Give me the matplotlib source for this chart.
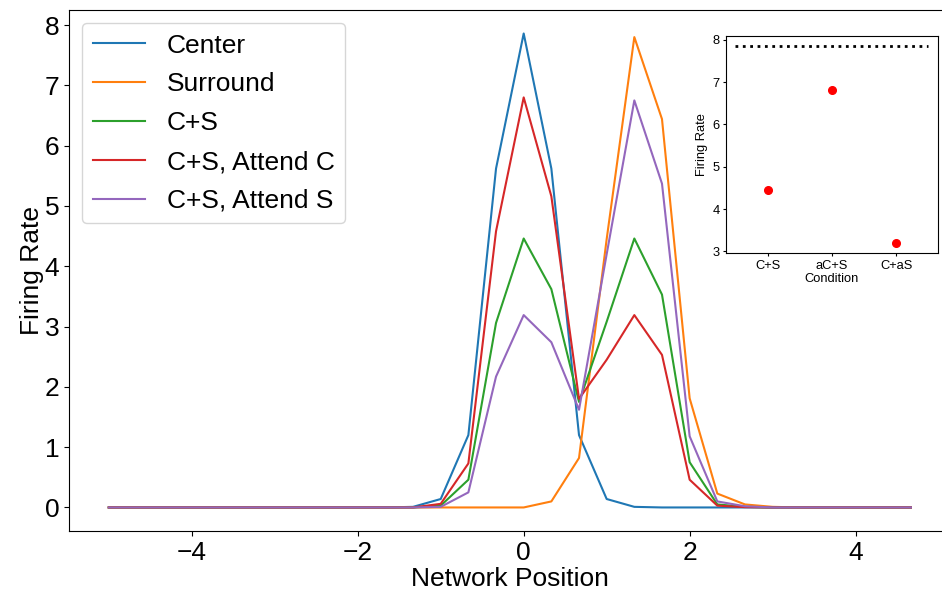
import numpy as np
import matplotlib.pyplot as plt

plt.rcParams['font.family'] = ['Liberation Sans', 'DejaVu Sans']

# network positions: -5 .. 4.67 in steps of 1/3
positions = np.arange(30) / 3.0 - 5.0

center = [0] * 11 + [0.01, 0.14, 1.2, 5.62, 7.86, 5.62, 1.2, 0.14, 0.01] + [0] * 10
surround = [0] * 15 + [0.0, 0.1, 0.82, 4.45, 7.8, 6.44, 1.81, 0.23, 0.05, 0.01] + [0] * 5
c_plus_s = [0] * 12 + [0.03, 0.46, 3.06, 4.46, 3.62, 1.75, 3.08, 4.46, 3.53, 0.75, 0.05, 0.01] + [0] * 6
attend_c = [0] * 12 + [0.06, 0.73, 4.58, 6.8, 5.16, 1.8, 2.45, 3.19, 2.53, 0.46, 0.03, 0.005] + [0] * 6
attend_s = [0] * 12 + [0.01, 0.25, 2.17, 3.19, 2.74, 1.62, 4.2, 6.75, 5.37, 1.18, 0.1, 0.02] + [0] * 6

series_labels = ["Center", "Surround", "C+S", "C+S, Attend C", "C+S, Attend S"]

# inset: peak firing per condition
conditions = ["C+S", "aC+S", "C+aS"]
cond_rates = [4.45, 6.8, 3.19]
center_peak = 7.86

fig = plt.figure(figsize=(9.42, 5.93), dpi=100)
ax = fig.add_axes([0.0732, 0.1046, 0.9364, 0.8786])

for vals, lab in zip([center, surround, c_plus_s, attend_c, attend_s], series_labels):
    ax.plot(positions, vals, lw=1.5, label=lab)

ax.set_xlim(-5.48, 5.15)
ax.set_ylim(-0.39, 8.25)
ax.tick_params(labelsize=19)
ax.set_xlabel("Network Position", fontsize=19, labelpad=2)
ax.set_ylabel("Firing Rate", fontsize=19, labelpad=0)
ax.legend(loc="upper left", fontsize=19, borderaxespad=0.5, handlelength=2.0,
          labelspacing=0.56)

# inset
ins = fig.add_axes([0.7704, 0.5728, 0.2254, 0.367])
ins.plot([-0.5, 2.5], [center_peak, center_peak], color='black', linestyle=':', lw=2)
ins.plot(range(len(conditions)), cond_rates, 'o', color='red', markersize=5.5, linestyle='none')
ins.set_xticks(range(len(conditions)))
ins.set_xticklabels(conditions)
ins.set_yticks([3, 4, 5, 6, 7, 8])
ins.tick_params(labelsize=9.3, length=2.5, pad=2)
ins.set_xlabel("Condition", fontsize=9.3, labelpad=1)
ins.set_ylabel("Firing Rate", fontsize=9.3, labelpad=3)

fig.savefig("out.png", dpi=100)
